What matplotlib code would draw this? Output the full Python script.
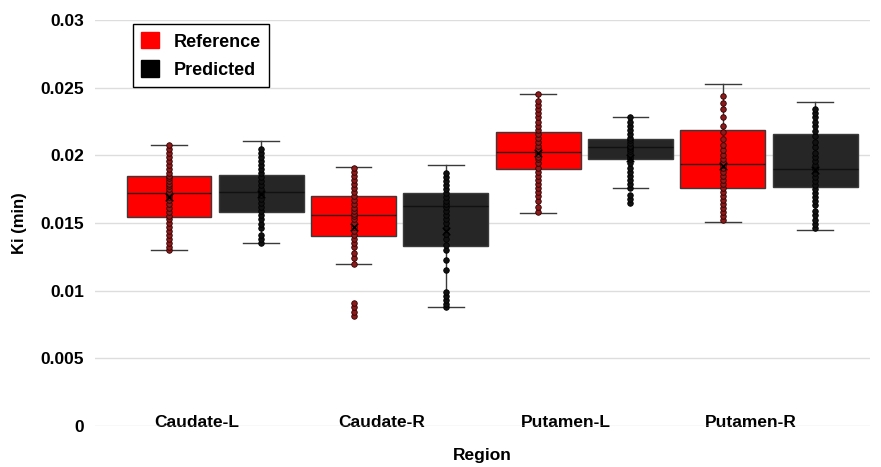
import matplotlib
matplotlib.use("Agg")
import matplotlib.pyplot as plt
from matplotlib.patches import Patch
import numpy as np

plt.rcParams['font.family'] = ['Liberation Sans', 'DejaVu Sans']
plt.rcParams['font.weight'] = 'bold'

regions = ["Caudate-L", "Caudate-R", "Putamen-L", "Putamen-R"]
series = ["Reference", "Predicted"]

# box stats: whisker low, q1, median, q3, whisker high
ref_whislo = [0.0130, 0.01196, 0.01573, 0.01507]
ref_q1 = [0.01544, 0.01403, 0.01898, 0.01758]
ref_med = [0.0172, 0.01558, 0.02024, 0.01935]
ref_q3 = [0.0185, 0.01699, 0.02171, 0.02186]
ref_whishi = [0.0208, 0.01913, 0.02452, 0.02526]

pred_whislo = [0.01352, 0.00879, 0.01758, 0.01448]
pred_q1 = [0.0158, 0.01329, 0.01972, 0.01765]
pred_med = [0.01728, 0.01625, 0.0206, 0.01898]
pred_q3 = [0.01854, 0.01721, 0.0212, 0.02157]
pred_whishi = [0.02105, 0.01928, 0.02282, 0.02393]

# individual points
ref_points = [
    [0.0130, 0.0132, 0.0135, 0.0138, 0.0141, 0.0144, 0.0147, 0.0150, 0.0153, 0.0155,
     0.0158, 0.0161, 0.0164, 0.0167, 0.0169, 0.0171, 0.0172, 0.0173, 0.0175, 0.0177,
     0.0179, 0.0181, 0.0183, 0.0185, 0.0187, 0.0190, 0.0193, 0.0196, 0.0199, 0.0202,
     0.0205, 0.0208],
    [0.0081, 0.0084, 0.0088, 0.0091, 0.0120, 0.0124, 0.0128, 0.0132, 0.0135, 0.0138,
     0.0141, 0.0144, 0.0147, 0.0150, 0.0153, 0.0155, 0.0157, 0.0159, 0.0161, 0.0164,
     0.0167, 0.0170, 0.0173, 0.0176, 0.0179, 0.0182, 0.0185, 0.0188, 0.0191],
    [0.0158, 0.0162, 0.0166, 0.0170, 0.0173, 0.0176, 0.0179, 0.0182, 0.0185, 0.0188,
     0.0191, 0.0194, 0.0197, 0.0199, 0.0201, 0.0203, 0.0205, 0.0207, 0.0210, 0.0213,
     0.0216, 0.0219, 0.0222, 0.0225, 0.0228, 0.0231, 0.0234, 0.0237, 0.0240, 0.0245],
    [0.0152, 0.0155, 0.0158, 0.0161, 0.0164, 0.0167, 0.0170, 0.0173, 0.0176, 0.0179,
     0.0182, 0.0185, 0.0188, 0.0191, 0.0193, 0.0195, 0.0197, 0.0200, 0.0204, 0.0208,
     0.0212, 0.0217, 0.0222, 0.0228, 0.0234, 0.0239, 0.0244],
]
pred_points = [
    [0.0135, 0.0138, 0.0141, 0.0146, 0.0149, 0.0153, 0.0156, 0.0159, 0.0162, 0.0165,
     0.0168, 0.0171, 0.0173, 0.0175, 0.0178, 0.0181, 0.0184, 0.0187, 0.0190, 0.0193,
     0.0196, 0.0199, 0.0202, 0.0205],
    [0.0088, 0.0090, 0.0093, 0.0096, 0.0099, 0.0115, 0.0123, 0.0130, 0.0134, 0.0138,
     0.0142, 0.0146, 0.0150, 0.0153, 0.0156, 0.0159, 0.0162, 0.0164, 0.0166, 0.0169,
     0.0172, 0.0175, 0.0178, 0.0181, 0.0184, 0.0187],
    [0.0165, 0.0168, 0.0171, 0.0176, 0.0179, 0.0182, 0.0185, 0.0188, 0.0191, 0.0194,
     0.0197, 0.0199, 0.0201, 0.0203, 0.0205, 0.0206, 0.0207, 0.0209, 0.0211, 0.0213,
     0.0216, 0.0219, 0.0222, 0.0225, 0.0228],
    [0.0146, 0.0149, 0.0152, 0.0156, 0.0159, 0.0163, 0.0166, 0.0169, 0.0172, 0.0175,
     0.0178, 0.0181, 0.0184, 0.0187, 0.0190, 0.0193, 0.0196, 0.0199, 0.0202, 0.0206,
     0.0210, 0.0214, 0.0218, 0.0222, 0.0225, 0.0228, 0.0231, 0.0234],
]

yticks = [0, 0.005, 0.01, 0.015, 0.02, 0.025, 0.03]
ytick_labels = ["0", "0.005", "0.01", "0.015", "0.02", "0.025", "0.03"]

fig = plt.figure(figsize=(8.81, 4.67), dpi=100)
ax = fig.add_axes([0.108, 0.088, 0.88, 0.869])

box_fill = ["#ff0000", "#262626"]
dot_color = ["#8b1a1a", "#111111"]
offsets = [-0.25, 0.25]
width = 0.46

groups = [
    (ref_whislo, ref_q1, ref_med, ref_q3, ref_whishi, ref_points),
    (pred_whislo, pred_q1, pred_med, pred_q3, pred_whishi, pred_points),
]

for s, (wlo, q1, med, q3, whi, pts) in enumerate(groups):
    stats = []
    for i in range(len(regions)):
        stats.append(dict(whislo=wlo[i], q1=q1[i], med=med[i], q3=q3[i],
                          whishi=whi[i], fliers=[]))
    pos = [i + offsets[s] for i in range(len(regions))]
    ax.bxp(stats, positions=pos, widths=width, patch_artist=True,
           showfliers=False, capwidths=width * 0.42,
           boxprops=dict(facecolor=box_fill[s], edgecolor="#3a3a3a", linewidth=1.0),
           medianprops=dict(color="#3a1010" if s == 0 else "#111111", linewidth=1.0),
           whiskerprops=dict(color="#3a3a3a", linewidth=1.0),
           capprops=dict(color="#3a3a3a", linewidth=1.0), zorder=2)
    for i in range(len(regions)):
        y = pts[i]
        ax.scatter([pos[i]] * len(y), y, s=16, color=dot_color[s],
                   edgecolors="#300000" if s == 0 else "black", linewidths=0.6, zorder=3)
        ax.scatter([pos[i]], [np.mean(y)], marker="x", s=30, color="black",
                   linewidths=1.0, zorder=4)

ax.set_ylim(0, 0.03)
ax.set_xlim(-0.65, 3.55)
ax.set_yticks(yticks)
ax.set_yticklabels(ytick_labels)
ax.set_xticks([i - 0.1 for i in range(len(regions))])
ax.set_xticklabels(regions)
ax.grid(axis="y", color="#dddddd", linewidth=1.0)
ax.set_axisbelow(True)
for sp in ax.spines.values():
    sp.set_visible(False)
ax.tick_params(axis="both", length=0, labelsize=12.5)
ax.tick_params(axis="x", pad=-8)
ax.tick_params(axis="y", pad=8)
ax.set_ylabel("Ki (min)", fontsize=12, fontweight="bold", labelpad=10)
ax.set_xlabel("Region", fontsize=12.5, fontweight="bold", labelpad=13)

handles = [Patch(facecolor="#ff0000", edgecolor="#ff0000"),
           Patch(facecolor="black", edgecolor="black")]
leg = ax.legend(handles, series, loc="upper left", bbox_to_anchor=(0.049, 0.99),
                fontsize=13, handlelength=1.0, handleheight=1.0, fancybox=False,
                framealpha=1, edgecolor="black", borderpad=0.45, labelspacing=0.55,
                handletextpad=0.8, borderaxespad=0)
leg.get_frame().set_linewidth(1.0)

fig.savefig("out.png", dpi=100)
